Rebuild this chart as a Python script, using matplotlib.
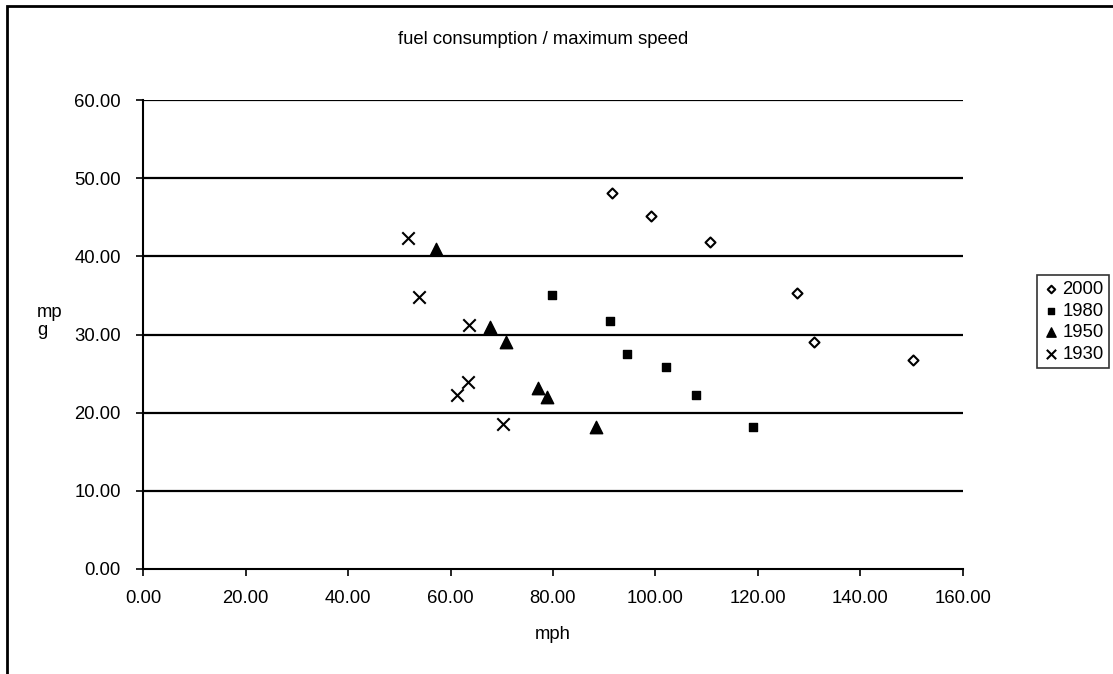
import matplotlib.pyplot as plt
from matplotlib.patches import Rectangle

plt.rcParams['font.family'] = ['Liberation Sans', 'DejaVu Sans']

# mph / mpg per decade
mph_2000 = [91.6, 99.1, 110.6, 127.7, 131.0, 150.3]
mpg_2000 = [48.1, 45.1, 41.8, 35.3, 29.0, 26.7]

mph_1980 = [79.8, 91.1, 94.4, 102.0, 108.0, 119.1]
mpg_1980 = [35.0, 31.7, 27.5, 25.9, 22.3, 18.2]

mph_1950 = [57.2, 67.8, 70.8, 77.1, 78.8, 88.4]
mpg_1950 = [40.9, 30.9, 29.0, 23.1, 22.0, 18.2]

mph_1930 = [51.8, 53.9, 63.6, 63.4, 61.3, 70.2]
mpg_1930 = [42.3, 34.8, 31.2, 23.9, 22.2, 18.5]

fs = 13.3

fig = plt.figure(figsize=(11.13, 6.74), dpi=100)
ax = fig.add_axes([0.1285, 0.1558, 0.7367, 0.6958])

# outer chart frame (right/bottom edges fall outside the image)
fig.patches.append(Rectangle((0.0065, -0.05), 1.1, 1.041, transform=fig.transFigure,
                             fill=False, edgecolor='black', linewidth=2, zorder=0))

ax.scatter(mph_2000, mpg_2000, marker='D', s=26, facecolor='white', edgecolor='black',
           linewidth=1.5, label='2000', zorder=3)
ax.scatter(mph_1980, mpg_1980, marker='s', s=30, color='black', label='1980', zorder=3)
ax.scatter(mph_1950, mpg_1950, marker='^', s=80, color='black', label='1950', zorder=3)
ax.scatter(mph_1930, mpg_1930, marker='x', s=80, color='black', linewidth=1.5,
           label='1930', zorder=3)

ax.set_xlim(0, 160)
ax.set_ylim(0, 60)
ax.set_xticks(range(0, 161, 20))
ax.set_yticks(range(0, 61, 10))
ax.set_xticklabels([f'{v:.2f}' for v in range(0, 161, 20)], fontsize=fs)
ax.set_yticklabels([f'{v:.2f}' for v in range(0, 61, 10)], fontsize=fs)
ax.tick_params(direction='out', length=5, width=1.2, color='black')
ax.tick_params(axis='x', pad=10)
ax.tick_params(axis='y', pad=11)

for y in range(10, 61, 10):
    ax.axhline(y, color='black', linewidth=1.6, zorder=1)

for s in ['top', 'right']:
    ax.spines[s].set_visible(False)
for s in ['left', 'bottom']:
    ax.spines[s].set_linewidth(1.5)

ax.set_xlabel('mph', fontsize=fs, labelpad=14)
ax.set_ylabel('mp\ng', fontsize=fs, rotation=0, ha='left', va='center', labelpad=0,
              linespacing=1.1)
ax.yaxis.set_label_coords(-0.129, 0.527)
fig.text(0.488, 0.941, 'fuel consumption / maximum speed', fontsize=fs, ha='center', va='center')

leg = ax.legend(loc='center left', bbox_to_anchor=(1.09, 0.527), frameon=True, fancybox=False,
                edgecolor='black', fontsize=fs, handletextpad=0.2, borderpad=0.3,
                labelspacing=0.25, handlelength=0.9, borderaxespad=0, markerscale=0.75)
leg.get_frame().set_linewidth(1.2)

fig.savefig('out.png', dpi=100)
